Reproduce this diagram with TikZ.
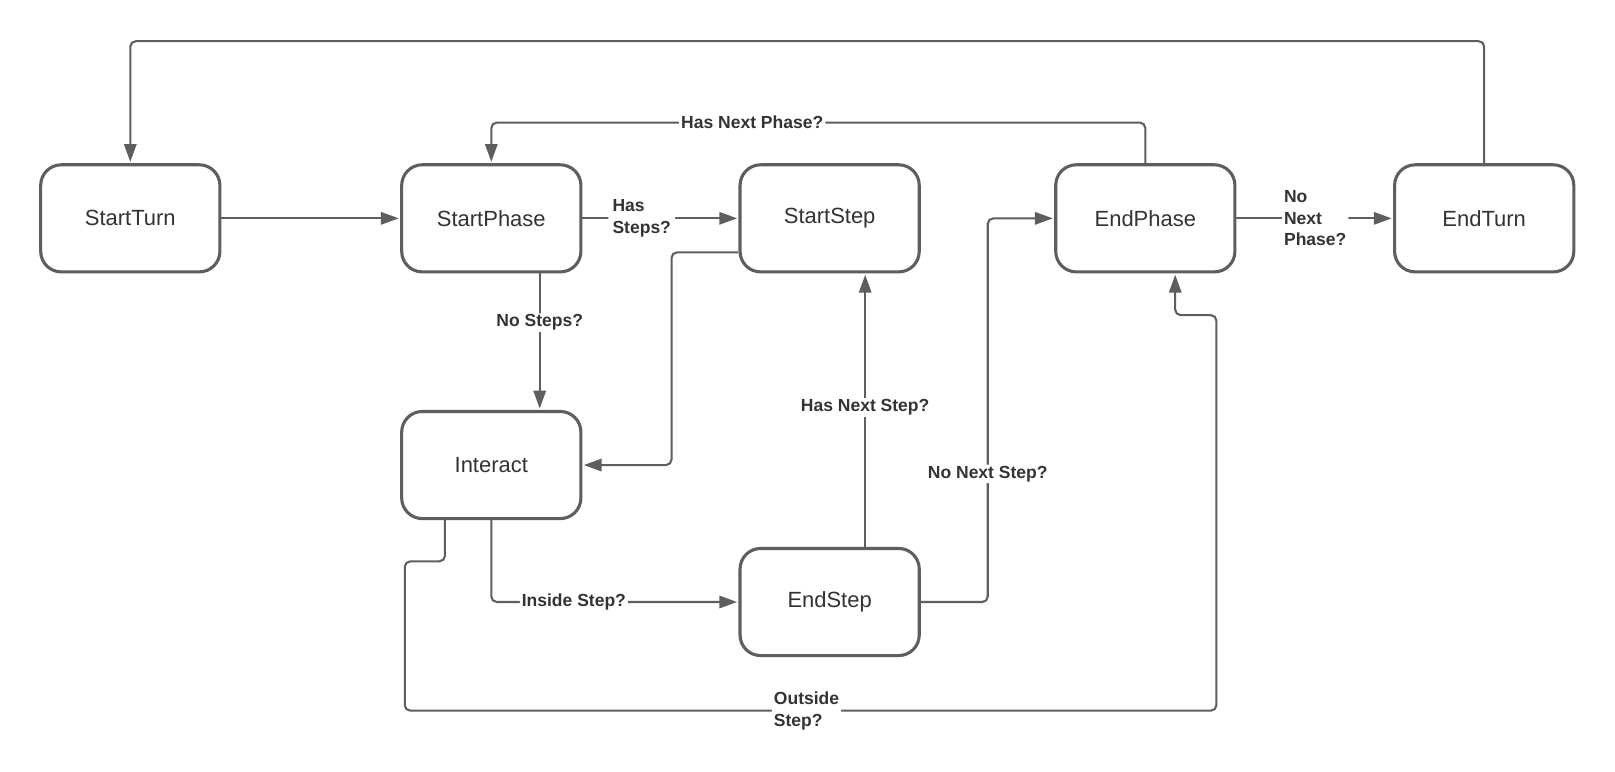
\documentclass[tikz,border=0pt]{standalone}
\usepackage{fontspec}
\setmainfont{Liberation Sans}
\usetikzlibrary{arrows.meta,calc}
\definecolor{linegray}{HTML}{5E5E5E}
\definecolor{textgray}{HTML}{333333}
\begin{document}
\begin{tikzpicture}[x=0.75pt,y=-0.75pt,
  state/.style={draw=linegray, line width=2.25pt, rounded corners=15pt,
    minimum width=130.5pt, minimum height=78pt, text=textgray,
    font=\fontsize{16}{19}\selectfont, inner sep=0pt},
  conn/.style={draw=linegray, line width=1.5pt, rounded corners=4pt},
  arr/.style={conn, shorten >=1pt, -{Triangle[length=13pt,width=9pt]}},
  lbl/.style={fill=white, text=textgray, font=\bfseries\fontsize{12.75}{15.75}\selectfont,
    align=left, inner xsep=1.5pt, inner ysep=1pt}]
\fill[white] (0,0) rectangle (1568,749.5);
\useasboundingbox (0,0) rectangle (1568,749.5);

% states
\node[state] (st) at (126.5,212) {StartTurn};
\node[state] (sp) at (477,212) {StartPhase};
\node[state] (ss) at (805.5,212) {StartStep};
\node[state] (ep) at (1112,212) {EndPhase};
\node[state] (et) at (1441,212) {EndTurn};
\node[state] (in) at (477,451.5) {Interact};
\node[state] (es) at (805.5,584.5) {EndStep};

% waypoints
\coordinate (w1) at (652,245);
\coordinate (w2) at (652,451.5);
\coordinate (w3) at (477,584.5);
\coordinate (w4a) at (432,545);
\coordinate (w4b) at (393,545);
\coordinate (w4c) at (393,690);
\coordinate (w4d) at (1181,690);
\coordinate (w4e) at (1181,306);
\coordinate (w4f) at (1141,306);
\coordinate (w5a) at (959,584.5);
\coordinate (w5b) at (959,212);
\coordinate (w6a) at (1112,119);
\coordinate (w6b) at (477,119);
\coordinate (w7a) at (1441,40);
\coordinate (w7b) at (126.5,40);

% connectors
\draw[arr] (st.east) -- (sp.west);
\draw[arr] (sp.east) -- node[lbl, pos=0.38, inner xsep=3pt] {Has\\Steps?} (ss.west);
\draw[arr] ($(sp.south)+(47,0)$) -- node[lbl, pos=0.36] {No Steps?} ($(in.north)+(47,0)$);
\draw[arr] ($(ss.west)+(0,33)$) -- (w1) -- (w2) -- (in.east);
\draw[arr] (in.south) -- (w3) -- node[lbl, pos=0.334] {Inside Step?} (es.west);
\draw[arr] ($(in.south)+(-45,0)$) -- (w4a) -- (w4b) -- (w4c)
  -- node[lbl, pos=0.495] {Outside\\Step?} (w4d) -- (w4e) -- (w4f) -- ($(ep.south)+(29,0)$);
\draw[arr] ($(es.north)+(34.5,0)$) -- node[lbl, pos=0.51] {Has Next Step?} ($(ss.south)+(34.5,0)$);
\draw[arr] (es.east) -- (w5a) -- node[lbl, pos=0.334] {No Next Step?} (w5b) -- (ep.west);
\draw[arr] (ep.north) -- (w6a) -- node[lbl, pos=0.601] {Has Next Phase?} (w6b) -- (sp.north);
\draw[arr] (ep.east) -- node[lbl, pos=0.503] {No\\Next\\Phase?} (et.west);
\draw[arr] (et.north) -- (w7a) -- (w7b) -- (st.north);
\end{tikzpicture}
\end{document}
